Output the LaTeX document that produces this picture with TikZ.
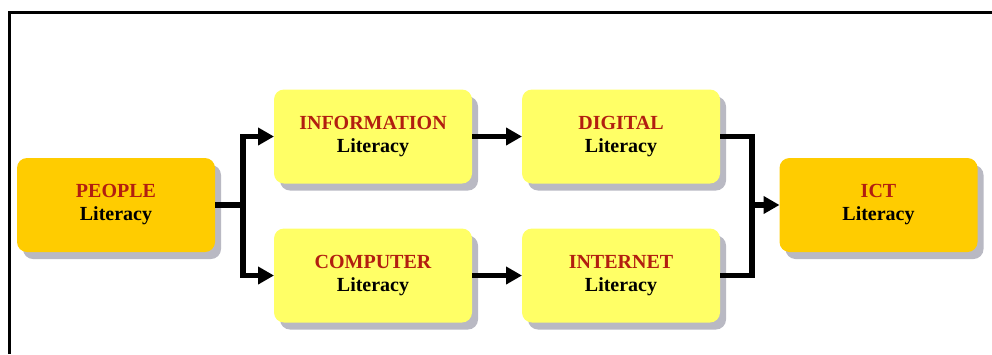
\documentclass[tikz,border=0pt]{standalone}
\usepackage{fontspec}
\setmainfont{Liberation Serif}
\usetikzlibrary{arrows.meta,positioning,shadows}
\definecolor{gold}{RGB}{255,204,0}
\definecolor{lemon}{RGB}{255,255,102}
\definecolor{titlered}{RGB}{178,30,16}
\definecolor{shade}{RGB}{185,185,195}
\newcommand{\lit}[1]{\textcolor{titlered}{#1}\\Literacy}

\begin{document}
\begin{tikzpicture}[x=1pt,y=-1pt,>={Triangle[length=16pt,width=17pt]},line width=5.5pt,
  box/.style={rectangle,rounded corners=10pt,minimum width=198pt,minimum height=94pt,
    align=center,line width=0pt,font=\bfseries\fontsize{20}{23}\selectfont,
    drop shadow={shadow xshift=6pt,shadow yshift=-7pt,fill=shade,opacity=1}},
  outer/.style={box,fill=gold},
  inner/.style={box,fill=lemon}]
  \useasboundingbox (0,0) rectangle (992,354);
  \draw[line width=3pt] (9.5,354) -- (9.5,12) -- (992,12);

  \node[outer] (people) at (116,205) {\lit{PEOPLE}};
  \node[inner] (info) at (373,136.5) {\lit{INFORMATION}};
  \node[inner] (digital) [right=50pt of info] {\lit{DIGITAL}};
  \node[inner] (computer) [below=45pt of info] {\lit{COMPUTER}};
  \node[inner] (internet) [right=50pt of computer] {\lit{INTERNET}};
  \node[outer] (ict) at (878.5,205) {\lit{ICT}};

  % split and merge points
  \coordinate (split) at (243,205);
  \coordinate (merge) at (752,205);

  \draw[->] (people.east) -- (split) |- (info.west);
  \draw[->] (split) |- (computer.west);
  \draw[->] (info) -- (digital);
  \draw[->] (computer) -- (internet);
  \draw (digital.east) -| (merge) |- (internet.east);
  \draw[->] (merge) -- (ict.west);
\end{tikzpicture}
\end{document}
